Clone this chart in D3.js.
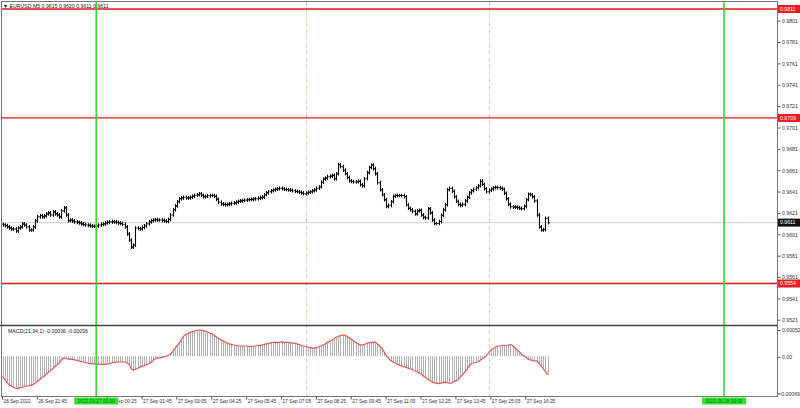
<!DOCTYPE html>
<html><head><meta charset="utf-8">
<script src="https://cdn.jsdelivr.net/npm/d3@7"></script>
<style>body{margin:0;background:#fff}svg{display:block}text{font-family:"Liberation Sans",Arial,sans-serif}</style>
</head><body><svg id="c" width="800" height="408"></svg>
<script>
// ---------- DATA ----------
const symbolTitle = "▼ EURUSD,M5  0.9615 0.9620 0.9611 0.9611";
const macdTitle = "MACD(21,34,1) -0.00036 -0.00036";
const firstBarTime = "2022-09-26T20:25:00";
const barMinutes = 5;
const firstOpen = 0.96095;
const closes = [
0.96088,0.96082,0.96070,0.96060,0.96051,0.96051,0.96032,0.96060,0.96070,0.96098,
0.96088,0.96070,0.96041,0.96041,0.96070,0.96126,0.96164,0.96176,0.96164,0.96173,
0.96192,0.96201,0.96182,0.96211,0.96192,0.96182,0.96164,0.96220,0.96248,0.96182,
0.96129,0.96135,0.96126,0.96117,0.96112,0.96107,0.96098,0.96093,0.96088,0.96084,
0.96079,0.96076,0.96076,0.96079,0.96088,0.96093,0.96098,0.96107,0.96112,0.96117,
0.96119,0.96117,0.96112,0.96107,0.96102,0.96093,0.96070,0.96004,0.95947,0.95881,
0.95900,0.96060,0.96055,0.96051,0.96065,0.96079,0.96098,0.96117,0.96129,0.96135,
0.96138,0.96135,0.96135,0.96131,0.96126,0.96121,0.96140,0.96182,0.96230,0.96267,
0.96305,0.96333,0.96342,0.96347,0.96342,0.96342,0.96347,0.96357,0.96366,0.96371,
0.96380,0.96366,0.96352,0.96357,0.96361,0.96364,0.96364,0.96357,0.96328,0.96300,
0.96286,0.96281,0.96277,0.96281,0.96286,0.96291,0.96295,0.96302,0.96310,0.96314,
0.96317,0.96321,0.96324,0.96326,0.96328,0.96331,0.96333,0.96338,0.96344,0.96349,
0.96371,0.96389,0.96399,0.96408,0.96415,0.96422,0.96427,0.96432,0.96427,0.96422,
0.96420,0.96416,0.96413,0.96408,0.96404,0.96399,0.96394,0.96388,0.96380,0.96387,
0.96394,0.96399,0.96408,0.96416,0.96432,0.96446,0.96488,0.96517,0.96528,0.96540,
0.96545,0.96552,0.96521,0.96568,0.96653,0.96634,0.96601,0.96568,0.96531,0.96502,
0.96495,0.96490,0.96493,0.96496,0.96465,0.96455,0.96521,0.96578,0.96625,0.96648,
0.96615,0.96568,0.96484,0.96418,0.96371,0.96324,0.96262,0.96272,0.96305,0.96357,
0.96364,0.96364,0.96364,0.96364,0.96352,0.96277,0.96244,0.96230,0.96215,0.96192,
0.96220,0.96225,0.96182,0.96159,0.96154,0.96239,0.96201,0.96135,0.96102,0.96102,
0.96121,0.96178,0.96230,0.96277,0.96418,0.96432,0.96404,0.96352,0.96310,0.96281,
0.96272,0.96281,0.96314,0.96347,0.96389,0.96408,0.96422,0.96437,0.96455,0.96498,
0.96469,0.96427,0.96399,0.96413,0.96425,0.96437,0.96441,0.96438,0.96432,0.96422,
0.96385,0.96333,0.96281,0.96258,0.96255,0.96255,0.96250,0.96244,0.96241,0.96262,
0.96324,0.96375,0.96371,0.96352,0.96314,0.96182,0.96070,0.96041,0.96046,0.96150,0.96110
];
const wick = 0.00017;
const macd = [
-39e-5,-45e-5,-50e-5,-55e-5,-57e-5,-60e-5,-62e-5,-63e-5,-61e-5,-60e-5,
-59e-5,-58e-5,-57e-5,-56e-5,-55e-5,-52e-5,-49e-5,-45e-5,-41e-5,-39e-5,
-35e-5,-31e-5,-28e-5,-24e-5,-20e-5,-17e-5,-13e-5,-8e-5,-3e-5,-4e-5,
-5e-5,-6e-5,-6e-5,-7e-5,-8e-5,-9e-5,-10e-5,-11e-5,-12e-5,-13e-5,
-14e-5,-14e-5,-15e-5,-15e-5,-15e-5,-15e-5,-16e-5,-15e-5,-15e-5,-14e-5,
-13e-5,-12e-5,-12e-5,-11e-5,-11e-5,-11e-5,-11e-5,-13e-5,-15e-5,-24e-5,
-27e-5,-25e-5,-23e-5,-21e-5,-19e-5,-18e-5,-16e-5,-15e-5,-12e-5,-9e-5,
-5e-5,-3e-5,-3e-5,-2e-5,-1e-5,0,2e-5,4e-5,9e-5,15e-5,
20e-5,25e-5,32e-5,39e-5,42e-5,44e-5,46e-5,48e-5,49e-5,50e-5,
51e-5,51e-5,50e-5,49e-5,47e-5,45e-5,44e-5,41e-5,38e-5,35e-5,
32e-5,30e-5,28e-5,26e-5,24e-5,23e-5,22e-5,21e-5,20e-5,20e-5,
20e-5,20e-5,20e-5,19e-5,19e-5,19e-5,20e-5,21e-5,21e-5,22e-5,
23e-5,24e-5,25e-5,26e-5,27e-5,27e-5,27e-5,27e-5,28e-5,27e-5,
27e-5,27e-5,26e-5,26e-5,25e-5,24e-5,23e-5,21e-5,20e-5,19e-5,
18e-5,17e-5,16e-5,16e-5,17e-5,18e-5,20e-5,22e-5,24e-5,27e-5,
29e-5,31e-5,34e-5,37e-5,39e-5,40e-5,41e-5,41e-5,39e-5,36e-5,
33e-5,30e-5,27e-5,25e-5,22e-5,22e-5,23e-5,25e-5,26e-5,27e-5,
27e-5,28e-5,24e-5,20e-5,16e-5,9e-5,2e-5,-3e-5,-8e-5,-11e-5,
-13e-5,-15e-5,-17e-5,-18e-5,-20e-5,-21e-5,-23e-5,-24e-5,-26e-5,-28e-5,
-29e-5,-32e-5,-34e-5,-38e-5,-41e-5,-44e-5,-47e-5,-49e-5,-51e-5,-52e-5,
-53e-5,-52e-5,-51e-5,-50e-5,-51e-5,-52e-5,-52e-5,-49e-5,-47e-5,-46e-5,
-40e-5,-36e-5,-31e-5,-26e-5,-20e-5,-14e-5,-13e-5,-12e-5,-11e-5,-8e-5,
-5e-5,-2e-5,1e-5,7e-5,12e-5,15e-5,17e-5,20e-5,20e-5,21e-5,
21e-5,21e-5,22e-5,23e-5,21e-5,17e-5,13e-5,9e-5,5e-5,1e-5,
-2e-5,-5e-5,-7e-5,-8e-5,-9e-5,-9e-5,-13e-5,-18e-5,-24e-5,-29e-5,-36e-5
];
const priceTicks = [0.9521,0.9541,0.9561,0.9581,0.9601,0.9621,0.9641,0.9661,0.9681,0.9701,0.9721,0.9741,0.9761,0.9781,0.9801];
const priceTickLabels = ["0.9521","0.9541","0.9561","0.9581","0.9601","0.9621","0.9641","0.9661","0.9681","0.9701","0.9721","0.9741","0.9761","0.9781","0.9801"];
const levelValues = [0.9811, 0.9709, 0.9554];
const levelLabels = ["0.9811","0.9709","0.9554"];
const bidValue = 0.9611, bidLabel = "0.9611";
const macdTicks = [0.00052, 0, -0.00069];
const macdTickLabels = ["0.00052","0.00","-0.00069"];
const timeTicks = ["2022-09-26T20:25:00","2022-09-26T21:45:00","2022-09-27T00:25:00","2022-09-27T01:45:00","2022-09-27T03:05:00","2022-09-27T04:25:00","2022-09-27T05:45:00","2022-09-27T07:05:00","2022-09-27T08:25:00","2022-09-27T09:45:00","2022-09-27T11:05:00","2022-09-27T12:25:00","2022-09-27T13:45:00","2022-09-27T15:05:00","2022-09-27T16:25:00"];
const timeTickLabels = ["26 Sep 2022","26 Sep 21:45","27 Sep 00:25","27 Sep 01:45","27 Sep 03:05","27 Sep 04:25","27 Sep 05:45","27 Sep 07:05","27 Sep 08:25","27 Sep 09:45","27 Sep 11:05","27 Sep 12:25","27 Sep 13:45","27 Sep 15:05","27 Sep 16:25"];
const greenLineTimes = ["2022-09-27T00:00:00","2022-09-28T00:00:00"];
const greenLineLabels = ["2022.09.27 00:00","2022.09.28 00:00"];
const sessionLineTimes = ["2022-09-27T08:00:00","2022-09-27T15:00:00"];

// ---------- CHART ----------
const svg = d3.select("#c");
const start = new Date(firstBarTime);
const barOf = t => (new Date(t) - start) / (barMinutes * 60000);
const L = 1.5, R = 777.5, T = 1.5, MID = 325.5, B = 396.5;
const x = d3.scaleLinear().domain([0, 355]).range([2.5, 2.5 + 355 * 2.18]);
const y = d3.scaleLinear().domain([0.9554, 0.9811]).range([283.5, 9]);
const ym = d3.scaleLinear().domain([-0.00069, 0.00052]).range([391.9, 329.5]);

const defs = svg.append("defs");
defs.append("clipPath").attr("id","cp1").append("rect").attr("x",L).attr("y",T).attr("width",R-L).attr("height",MID-T);
defs.append("clipPath").attr("id","cp2").append("rect").attr("x",L).attr("y",MID).attr("width",R-L).attr("height",B-MID);
defs.append("clipPath").attr("id","cp3").append("rect").attr("x",0).attr("y",397).attr("width",800).attr("height",11);

const bars = closes.map((c,i)=>{
  const o = i===0 ? firstOpen : closes[i-1];
  return {i, o, c, h: Math.max(o,c)+wick, l: Math.min(o,c)-wick};
});

const g1 = svg.append("g").attr("clip-path","url(#cp1)");
const g2 = svg.append("g").attr("clip-path","url(#cp2)");

// bid line
g1.append("line").attr("x1",L).attr("x2",R).attr("y1",y(bidValue)).attr("y2",y(bidValue))
  .attr("stroke","#d2d2d2").attr("stroke-width",1);

// session dashed lines
sessionLineTimes.forEach(t=>{
  const xx = Math.round(x(barOf(t)))+0.5;
  [g1,g2].forEach(g=>g.append("line").attr("x1",xx).attr("x2",xx).attr("y1",T).attr("y2",B)
    .attr("stroke","#a8e69a").attr("stroke-width",1).attr("stroke-dasharray","4,3"));
});

// level lines
levelValues.forEach(v=>{
  g1.append("line").attr("x1",L).attr("x2",R).attr("y1",y(v)).attr("y2",y(v))
    .attr("stroke","#e8141c").attr("stroke-width",1.3);
});

// OHLC bars
const bg = g1.append("g").attr("stroke","#000").attr("stroke-width",1.1).attr("fill","none");
bars.forEach(d=>{
  const xx = Math.round(x(d.i))+0.5;
  bg.append("line").attr("x1",xx).attr("x2",xx).attr("y1",y(d.h)).attr("y2",y(d.l));
  bg.append("line").attr("x1",xx-1.2).attr("x2",xx).attr("y1",y(d.o)).attr("y2",y(d.o));
  bg.append("line").attr("x1",xx).attr("x2",xx+1.2).attr("y1",y(d.c)).attr("y2",y(d.c));
});

// MACD histogram
const hg = g2.append("g").attr("stroke","#b0b0b0").attr("stroke-width",1);
macd.forEach((v,i)=>{
  const xx = Math.round(x(i))+0.5;
  hg.append("line").attr("x1",xx).attr("x2",xx).attr("y1",ym(0)).attr("y2",ym(v));
});
g2.append("path").datum(macd)
  .attr("d", d3.line().x((v,i)=>x(i)).y(v=>ym(v)))
  .attr("fill","none").attr("stroke","#e05a5a").attr("stroke-width",1.2);

// green solid lines
greenLineTimes.forEach(t=>{
  const xx = x(barOf(t));
  svg.append("line").attr("x1",xx).attr("x2",xx).attr("y1",T).attr("y2",B)
    .attr("stroke","#2fdc2f").attr("stroke-width",1.6);
});

// borders
svg.append("rect").attr("x",L).attr("y",T).attr("width",R-L).attr("height",MID-T)
  .attr("fill","none").attr("stroke","#777").attr("stroke-width",1);
svg.append("rect").attr("x",L).attr("y",MID).attr("width",R-L).attr("height",B-MID)
  .attr("fill","none").attr("stroke","#777").attr("stroke-width",1);
svg.append("line").attr("x1",0).attr("x2",R).attr("y1",MID).attr("y2",MID)
  .attr("stroke","#444").attr("stroke-width",1.4);

// titles
svg.append("text").attr("x",3).attr("y",7.5).attr("font-size",5.2).attr("fill","#222").text(symbolTitle);
svg.append("text").attr("x",8).attr("y",333).attr("font-size",5.2).attr("fill","#222").text(macdTitle);

// price axis
const ax = svg.append("g");
priceTicks.forEach((v,k)=>{
  ax.append("line").attr("x1",R).attr("x2",R+3).attr("y1",y(v)+1.5).attr("y2",y(v)+1.5).attr("stroke","#555");
  ax.append("text").attr("x",782).attr("y",y(v)+1.5).attr("dy","0.35em").attr("font-size",5.2).attr("fill","#333").text(priceTickLabels[k]);
});
function tag(v, label, fill){
  ax.append("rect").attr("x",778).attr("y",y(v)-4).attr("width",22).attr("height",8).attr("fill",fill);
  ax.append("text").attr("x",780).attr("y",y(v)).attr("dy","0.35em").attr("font-size",5.2).attr("fill","#fff").text(label);
}
levelValues.forEach((v,k)=>tag(v, levelLabels[k], "#ee1b22"));
tag(bidValue, bidLabel, "#111");

// MACD axis
macdTicks.forEach((v,k)=>{
  const yy = k===2 ? ym(v)+2 : ym(v)+1;
  ax.append("line").attr("x1",R).attr("x2",R+3).attr("y1",yy).attr("y2",yy).attr("stroke","#555");
  ax.append("text").attr("x",k===2?779.5:782).attr("y",yy).attr("dy","0.35em").attr("font-size",5.2).attr("fill","#333").text(macdTickLabels[k]);
});

// time axis
const boxes = greenLineTimes.map(t=>[x(barOf(t))-22, x(barOf(t))+22]);
timeTicks.forEach((t,k)=>{
  const xx = x(barOf(t));
  ax.append("line").attr("x1",xx).attr("x2",xx).attr("y1",B).attr("y2",B+3).attr("stroke","#555");
  // a label partly hidden by a green time box shows only its visible tail
  const hit = boxes.find(b=>xx>=b[0]-30 && xx<=b[1]);
  const tg = hit ? ax.append("g").append("svg").attr("x",hit[1]).attr("y",0).attr("width",800).attr("height",408)
                    .attr("viewBox",`${hit[1]} 0 800 408`) : ax;
  tg.append("text").attr("x",xx+1).attr("y",402.5).attr("font-size",4.8).attr("fill","#333").text(timeTickLabels[k]);
});
greenLineTimes.forEach((t,k)=>{
  const xx = x(barOf(t));
  ax.append("rect").attr("x",xx-22).attr("y",397.5).attr("width",44).attr("height",7).attr("fill","#2fe62f");
  ax.append("text").attr("x",xx).attr("y",401).attr("dy","0.35em").attr("text-anchor","middle")
    .attr("font-size",4.8).attr("fill","#0b6a0b").text(greenLineLabels[k]);
});
</script></body></html>
